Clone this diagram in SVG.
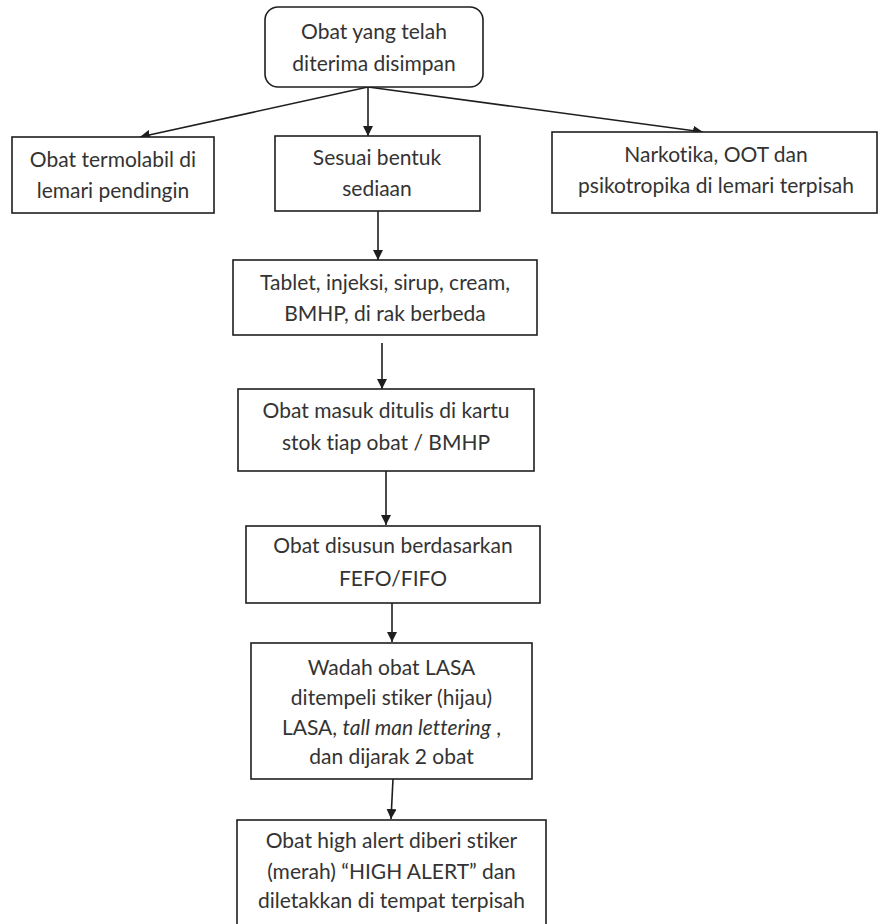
<svg xmlns="http://www.w3.org/2000/svg" width="878" height="924" viewBox="0 0 878 924">
<style>
.box{fill:#fff;stroke:#1e1e1e;stroke-width:1.6}
.t{font-family:Lato,"Carlito","Open Sans",sans-serif;font-size:21px;fill:#333;text-anchor:middle;font-variant-ligatures:none;font-feature-settings:"liga" 0,"dlig" 0}
.c{stroke:#1e1e1e;stroke-width:1.6;fill:none;marker-end:url(#ah)}
</style>
<defs>
<marker id="ah" viewBox="0 0 10 10" refX="10" refY="5" markerWidth="10" markerHeight="10" markerUnits="userSpaceOnUse" orient="auto">
<path d="M0,0 L10,5 L0,10 z" fill="#1e1e1e"/>
</marker>
</defs>
<rect width="878" height="924" fill="#fff"/>
<g id="connectors">
<line class="c" x1="368" y1="87" x2="140" y2="137"/>
<line class="c" x1="368" y1="87" x2="368" y2="136"/>
<line class="c" x1="368" y1="87" x2="703" y2="132"/>
<line class="c" x1="378" y1="211" x2="378" y2="260"/>
<line class="c" x1="382" y1="343" x2="382" y2="389"/>
<line class="c" x1="386" y1="471" x2="386" y2="525"/>
<line class="c" x1="392" y1="603" x2="392" y2="642"/>
<line class="c" x1="393" y1="779" x2="391" y2="819"/>
</g>
<g id="n1">
<rect class="box" x="265" y="7" width="218" height="80" rx="13"/>
<text class="t" x="374" y="39">Obat yang telah</text>
<text class="t" x="374" y="71">diterima disimpan</text>
</g>
<g id="n2">
<rect class="box" x="12" y="137" width="202" height="76"/>
<text class="t" x="113" y="167">Obat termolabil di</text>
<text class="t" x="113" y="198">lemari pendingin</text>
</g>
<g id="n3">
<rect class="box" x="275" y="136" width="205" height="75"/>
<text class="t" x="377" y="165">Sesuai bentuk</text>
<text class="t" x="377" y="196">sediaan</text>
</g>
<g id="n4">
<rect class="box" x="552" y="132" width="325" height="81"/>
<text class="t" x="716" y="162">Narkotika, OOT dan</text>
<text class="t" x="716" y="193">psikotropika di lemari terpisah</text>
</g>
<g id="n5">
<rect class="box" x="233" y="260" width="304" height="75"/>
<text class="t" x="385" y="290">Tablet, injeksi, sirup, cream,</text>
<text class="t" x="385" y="321">BMHP, di rak berbeda</text>
</g>
<g id="n6">
<rect class="box" x="238" y="389" width="296" height="82"/>
<text class="t" x="386" y="418">Obat masuk ditulis di kartu</text>
<text class="t" x="386" y="450">stok tiap obat / BMHP</text>
</g>
<g id="n7">
<rect class="box" x="246" y="526" width="294" height="77"/>
<text class="t" x="393" y="553">Obat disusun berdasarkan</text>
<text class="t" x="393" y="586">FEFO/FIFO</text>
</g>
<g id="n8">
<rect class="box" x="251" y="643" width="281" height="136"/>
<text class="t" x="391.5" y="675">Wadah obat LASA</text>
<text class="t" x="391.5" y="705">ditempeli stiker (hijau)</text>
<text class="t" x="391.5" y="735">LASA, <tspan font-style="italic">tall man lettering</tspan> ,</text>
<text class="t" x="391.5" y="764">dan dijarak 2 obat</text>
</g>
<g id="n9">
<rect class="box" x="237" y="820" width="309" height="120"/>
<text class="t" x="391.5" y="848">Obat high alert diberi stiker</text>
<text class="t" x="391.5" y="879">(merah) “HIGH ALERT” dan</text>
<text class="t" x="391.5" y="908">diletakkan di tempat terpisah</text>
</g>
</svg>
